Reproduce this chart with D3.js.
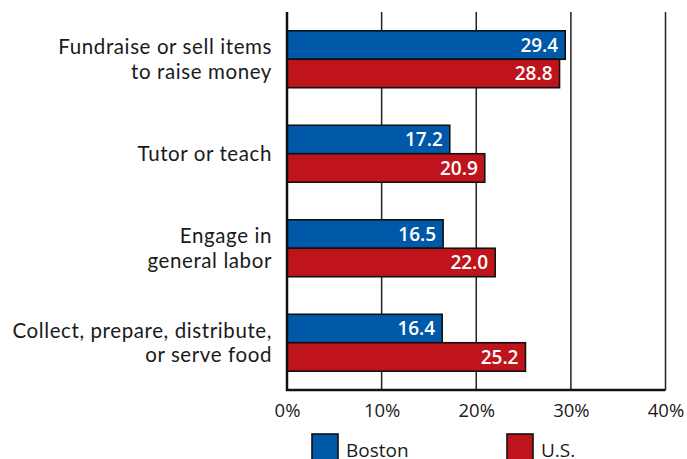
<!DOCTYPE html>
<html>
<head>
<meta charset="utf-8">
<script src="https://cdn.jsdelivr.net/npm/d3@7"></script>
<style>
  html, body { margin: 0; padding: 0; background: #fff; }
  svg { display: block; font-family: "Open Sans", Lato, sans-serif; }
</style>
</head>
<body>
<svg id="chart" width="687" height="459"></svg>
<script>
// Activities, shown top to bottom (each label may wrap to two lines)
const categories = [
  ["Fundraise or sell items", "to raise money"],
  ["Tutor or teach"],
  ["Engage in", "general labor"],
  ["Collect, prepare, distribute,", "or serve food"]
];
const series = ["Boston", "U.S."];
const bostonValues = [29.4, 17.2, 16.5, 16.4];
const usValues = [28.8, 20.9, 22.0, 25.2];
const tickValues = [0, 10, 20, 30, 40];
const tickLabels = ["0%", "10%", "20%", "30%", "40%"];
const colors = ["#0058A9", "#C0141C"];

const svg = d3.select("#chart");
const plotLeft = 287, plotRight = 665.5, plotTop = 12, plotBottom = 390;

const keys = categories.map((c, i) => i);
const x = d3.scaleLinear().domain([0, 40]).range([plotLeft, plotRight]);
const y0 = d3.scaleBand().domain(keys).range([plotTop, plotBottom]).padding(0);
const y1 = d3.scaleBand().domain(series).range([0, y0.bandwidth()])
  .paddingInner(0).paddingOuter(0.66);

const valuesBySeries = { "Boston": bostonValues, "U.S.": usValues };

// vertical gridlines (the 0 line is the axis itself)
svg.append("g").selectAll("line")
  .data(tickValues.slice(1))
  .join("line")
  .attr("x1", d => x(d)).attr("x2", d => x(d))
  .attr("y1", plotTop).attr("y2", plotBottom)
  .attr("stroke", "#222").attr("stroke-width", 1.5);

// bars
const groups = svg.append("g").selectAll("g")
  .data(keys)
  .join("g")
  .attr("transform", d => `translate(0,${y0(d)})`);

groups.selectAll("rect")
  .data(i => series.map((s, k) => ({ s, k, v: valuesBySeries[s][i] })))
  .join("rect")
  .attr("x", x(0))
  .attr("y", d => y1(d.s))
  .attr("width", d => x(d.v) - x(0))
  .attr("height", y1.bandwidth())
  .attr("fill", d => colors[d.k])
  .attr("stroke", "#111").attr("stroke-width", 1.6);

groups.selectAll("text.val")
  .data(i => series.map((s, k) => ({ s, k, v: valuesBySeries[s][i] })))
  .join("text")
  .attr("class", "val")
  .attr("x", d => x(d.v) - 7)
  .attr("y", d => y1(d.s) + y1.bandwidth() / 2)
  .attr("dy", "0.36em")
  .attr("text-anchor", "end")
  .attr("fill", "#fff")
  .attr("font-weight", 600)
  .attr("font-size", 19)
  .text(d => d.v.toFixed(1));

// category labels
const lineH = 24.5;
svg.append("g").selectAll("text")
  .data(keys)
  .join("text")
  .attr("text-anchor", "end")
  .attr("font-family", "Lato, 'Open Sans', sans-serif")
  .attr("font-size", 20.5)
  .attr("letter-spacing", 0.6)
  .attr("fill", "#1a1a1a")
  .each(function(i) {
    const lines = categories[i];
    const cy = y0(i) + y0.bandwidth() / 2;
    const startY = cy - (lines.length - 1) * lineH / 2;
    d3.select(this).selectAll("tspan")
      .data(lines)
      .join("tspan")
      .attr("x", 272)
      .attr("y", (l, j) => startY + j * lineH)
      .attr("dy", "0.36em")
      .text(l => l);
  });

// x axis
const xAxis = d3.axisBottom(x)
  .tickValues(tickValues)
  .tickFormat((d, i) => tickLabels[i])
  .tickSize(0).tickPadding(14);
const ax = svg.append("g").attr("transform", `translate(0,${plotBottom})`).call(xAxis);
ax.select(".domain").remove();
ax.selectAll("text").attr("font-size", 18.5).attr("fill", "#1a1a1a")
  .attr("font-family", "'Open Sans', Lato, sans-serif");

// axis lines
svg.append("line").attr("x1", plotLeft).attr("x2", plotLeft).attr("y1", plotTop).attr("y2", plotBottom + 1)
  .attr("stroke", "#111").attr("stroke-width", 2.5);
svg.append("line").attr("x1", plotLeft - 1).attr("x2", plotRight).attr("y1", plotBottom).attr("y2", plotBottom)
  .attr("stroke", "#111").attr("stroke-width", 2.5);

// legend
const legendX = [312, 507];
const legend = svg.append("g").selectAll("g")
  .data(series)
  .join("g")
  .attr("transform", (d, i) => `translate(${legendX[i]},434)`);
legend.append("rect")
  .attr("width", 26).attr("height", 27)
  .attr("fill", (d, i) => colors[i])
  .attr("stroke", "#111").attr("stroke-width", 1.6);
legend.append("text")
  .attr("x", 34).attr("y", 23)
  .attr("font-size", 19).attr("fill", "#1a1a1a")
  .text(d => d);
</script>
</body>
</html>
